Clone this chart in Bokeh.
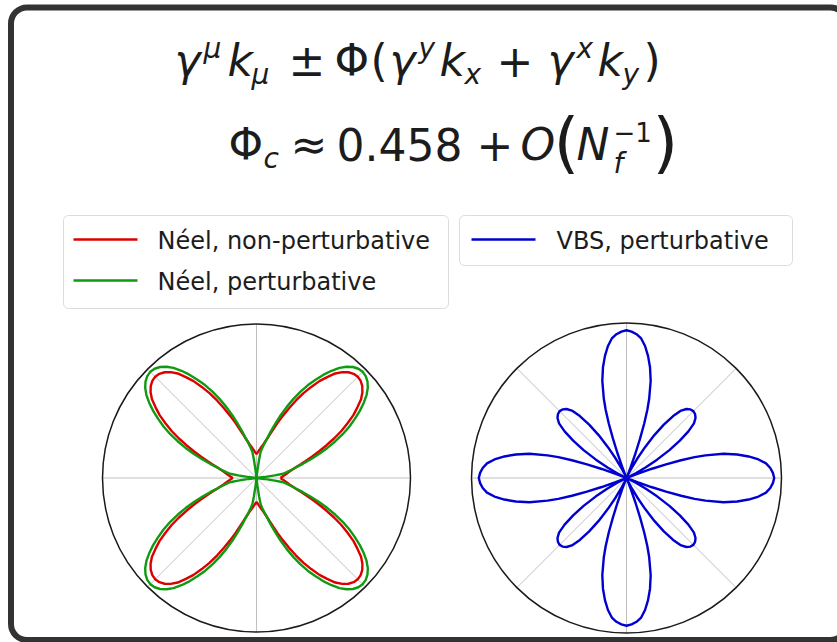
import numpy as np
from bokeh.plotting import figure
from bokeh.models import Range1d, BoxAnnotation
from bokeh.core.properties import value
from bokeh.embed import file_html
from bokeh.resources import INLINE

# ---------------------------------------------------------------------------
# Data: radius of each polar curve vs. angular offset (deg) from a lobe axis.
# Néel lobes sit on the diagonals, each spanning +/-45 deg around its axis.
# ---------------------------------------------------------------------------
neel_np_offset = [0, 2, 4, 6, 8, 10, 12, 14, 16, 18, 20, 22, 24, 26, 28, 30,
                  32, 34, 36, 38, 40, 42, 44, 45]
neel_np_r = [0.93, 0.925, 0.91, 0.885, 0.85, 0.80, 0.75, 0.69, 0.63, 0.565,
             0.50, 0.44, 0.385, 0.335, 0.295, 0.262, 0.238, 0.218, 0.204,
             0.19, 0.179, 0.168, 0.159, 0.156]

neel_p_offset = [0, 2, 4, 6, 8, 10, 12, 14, 16, 18, 20, 22, 24, 26, 28, 30,
                 32, 34, 36, 37, 38, 39, 42, 45]
neel_p_r = [0.975, 0.97, 0.955, 0.93, 0.895, 0.85, 0.80, 0.745, 0.69, 0.63,
            0.565, 0.50, 0.435, 0.37, 0.315, 0.265, 0.23, 0.20, 0.175, 0.12,
            0.05, 0.0, 0.0, 0.0]

# VBS: large lobes on the axes, small lobes on the diagonals (+/-22.5 deg each)
vbs_major_offset = [0, 2, 4, 6, 8, 10, 12, 14, 16, 17, 18, 19, 20, 21, 22, 22.5]
vbs_major_r = [0.953, 0.945, 0.93, 0.905, 0.86, 0.80, 0.73, 0.645, 0.53, 0.46,
               0.37, 0.27, 0.17, 0.08, 0.02, 0.0]
vbs_minor_offset = [0, 2, 4, 6, 8, 10, 12, 14, 16, 18, 20, 22, 22.5]
vbs_minor_r = [0.61, 0.605, 0.59, 0.56, 0.50, 0.42, 0.33, 0.23, 0.14, 0.07,
               0.025, 0.003, 0.0]

series_labels = ["Néel, non-perturbative", "Néel, perturbative", "VBS, perturbative"]
series_colors = ["#dd0000", "#109a10", "#0000d0"]
grid_angles = [0, 45, 90, 135, 180, 225, 270, 315]

W, H = 837, 642
FONT = "DejaVu Sans"
INK = "#1c1c1c"


def lobe(axis_deg, offsets, radii):
    off = np.asarray(offsets, float)
    rad = np.asarray(radii, float)
    th = np.concatenate([axis_deg - off[::-1], axis_deg + off[1:]])
    rr = np.concatenate([rad[::-1], rad[1:]])
    return th, rr


def to_xy(th_deg, rr):
    t = np.deg2rad(th_deg)
    return rr * np.cos(t), rr * np.sin(t)


def closed_curve(parts):
    th = np.concatenate([p[0] for p in parts])
    rr = np.concatenate([p[1] for p in parts])
    th = np.append(th, th[0])
    rr = np.append(rr, rr[0])
    return to_xy(th, rr)


p = figure(width=W, height=H, x_range=Range1d(0, W), y_range=Range1d(H, 0),
           output_backend="svg", toolbar_location=None, min_border=0,
           x_axis_location=None, y_axis_location=None,
           background_fill_color="white", border_fill_color="white",
           outline_line_color=None)
p.grid.visible = False

# polar panels: unit-circle data ranges placed by centre and pixel radius
panels = {"neel": (256, 477.5, 154), "vbs": (626, 477.5, 155)}
for name, (cx, cy, R) in panels.items():
    p.extra_x_ranges[name] = Range1d(-cx / R, (W - cx) / R)
    p.extra_y_ranges[name] = Range1d(-(H - cy) / R, cy / R)

# slide frame
p.add_layout(BoxAnnotation(left=10.5, right=846, top=7, bottom=639.5,
                           fill_alpha=0, line_color="#333333", line_alpha=1,
                           line_width=6, border_radius=16, level="underlay"))

for name in panels:
    gx, gy = to_xy(np.array(grid_angles, float), np.ones(len(grid_angles)))
    p.segment(x0=np.zeros(len(gx)), y0=np.zeros(len(gy)), x1=gx, y1=gy,
              line_color="#c0c0c0", line_width=1,
              x_range_name=name, y_range_name=name)
    p.circle(x=[0], y=[0], radius=1, fill_color=None, line_color="#1a1a1a",
             line_width=1.5, x_range_name=name, y_range_name=name)

# Néel panel
neel_axes = [45, 135, 225, 315]
x_np, y_np = closed_curve([lobe(a, neel_np_offset, neel_np_r) for a in neel_axes])
x_p, y_p = closed_curve([lobe(a, neel_p_offset, neel_p_r) for a in neel_axes])
p.line(x_np, y_np, line_color=series_colors[0], line_width=2.4,
       x_range_name="neel", y_range_name="neel")
p.line(x_p, y_p, line_color=series_colors[1], line_width=2.4,
       x_range_name="neel", y_range_name="neel")

# VBS panel
vbs_parts = []
for a in range(0, 360, 45):
    if a % 90 == 0:
        vbs_parts.append(lobe(a, vbs_major_offset, vbs_major_r))
    else:
        vbs_parts.append(lobe(a, vbs_minor_offset, vbs_minor_r))
x_v, y_v = closed_curve(vbs_parts)
p.line(x_v, y_v, line_color=series_colors[2], line_width=2.4,
       x_range_name="vbs", y_range_name="vbs")


def put(t, x, y, size, style="normal", align="left", baseline="alphabetic"):
    # the renderer sets alphabetic text a little low; lift it by a fraction of the size
    yy = y - 0.45 * size if baseline == "alphabetic" else y
    p.text(x=[x], y=[yy], text=[t], text_font=value(FONT),
           text_font_size=value(f"{size}px"), text_font_style=value(style),
           text_color=INK, text_align=value(align), text_baseline=value(baseline))


MAIN, SCRIPT, BIG = 44, 28, 66

# first formula line
b1 = 80
line1 = [
    ("γ", 174, 0, "italic"), ("μ", 203, -19, "italic"), ("k", 227, 0, "italic"),
    ("μ", 251, 7, "italic"), ("±", 288, 0, "normal"), ("Φ", 334, 0, "normal"),
    ("(", 370, 0, "normal"), ("γ", 389, 0, "italic"), ("y", 418, -19, "italic"),
    ("k", 439, 0, "italic"), ("x", 464, 7, "italic"), ("+", 496, 0, "normal"),
    ("γ", 547, 0, "italic"), ("x", 576, -19, "italic"), ("k", 597, 0, "italic"),
    ("y", 622, 7, "italic"), (")", 643, 0, "normal"),
]
for t, x, dy, st in line1:
    put(t, x, b1 + dy, MAIN if dy == 0 else SCRIPT, st)

# second formula line
b2 = 164
line2 = [
    ("Φ", 228, 0, "normal", MAIN), ("c", 263, 7, "italic", SCRIPT),
    ("≈", 290, 0, "normal", MAIN), ("0.458", 336, 0, "normal", MAIN),
    ("+", 476, 0, "normal", MAIN), ("O", 520, 0, "italic", MAIN),
    ("N", 576, 0, "italic", MAIN), ("−1", 613, -21, "normal", 26),
    ("f", 613, 12, "italic", SCRIPT),
]
for t, x, dy, st, sz in line2:
    put(t, x, b2 + dy, sz, st)
put("(", 553, b2 + 8, BIG)
put(")", 652, b2 + 8, BIG)

# legends
p.add_layout(BoxAnnotation(left=63, right=448, top=215, bottom=308,
                           fill_color="white", fill_alpha=1, line_color="#dcdcdc",
                           line_alpha=1, line_width=1, border_radius=5, level="underlay"))
p.add_layout(BoxAnnotation(left=459, right=792, top=215, bottom=265,
                           fill_color="white", fill_alpha=1, line_color="#dcdcdc",
                           line_alpha=1, line_width=1, border_radius=5, level="underlay"))
legend_rows = [(73, 157, 239), (73, 157, 280), (471, 556, 239)]
for (x0, tx, yy), lab, col in zip(legend_rows, series_labels, series_colors):
    p.segment(x0=[x0], y0=[yy], x1=[x0 + 64], y1=[yy], line_color=col, line_width=2.4)
    put(lab, tx, yy + 1, 24, baseline="middle")

open("out.html", "w").write(file_html(p, INLINE))
